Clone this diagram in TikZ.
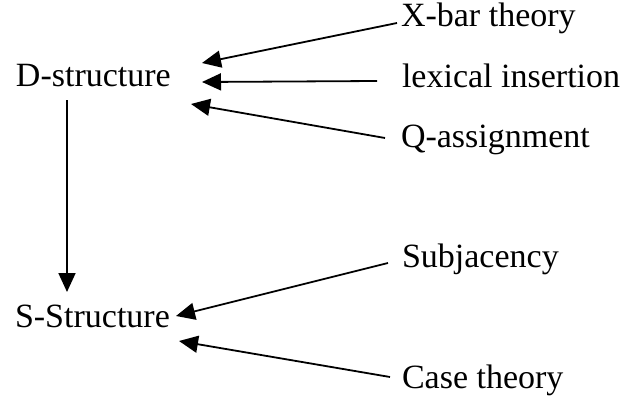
\documentclass[tikz,border=0pt]{standalone}
\usepackage{fontspec}
\setmainfont{Liberation Serif}
\usetikzlibrary{arrows.meta,calc}

\begin{document}
\begin{tikzpicture}[
    x=0.5pt, y=-0.5pt,
    label/.style={inner sep=0pt, outer sep=0pt, anchor=base west,
                  font=\fontsize{17}{20}\selectfont},
    feed/.style={line width=0.9pt,
                 -{Triangle[length=9.5pt,width=8.5pt]}}
  ]
  \useasboundingbox (0,0) rectangle (625,401);

  % levels of representation
  \node[label] (dstr) at (16,87)  {D-structure};
  \node[label] (sstr) at (15,327) {S-Structure};

  % modules feeding D-structure
  \node[label] (xbar)  at (401,27)  {X-bar theory};
  \node[label] (lex)   at (402,88)  {lexical insertion};
  \node[label] (theta) at (401,147) {Q-assignment};

  % modules constraining S-Structure
  \node[label] (subj) at (402,267) {Subjacency};
  \node[label] (case) at (402,388) {Case theory};

  % derivation
  \draw[feed] ($(dstr.base west)+(51,13)$) -- ($(sstr.base west)+(52,-35)$);

  % arrows into D-structure
  \draw[feed] ($(xbar.base west)+(-4,-4)$)   -- ($(dstr.base west)+(186,-24)$);
  \draw[feed] ($(lex.base west)+(-25,-7)$)   -- ($(dstr.base west)+(186,-5)$);
  \draw[feed] ($(theta.base west)+(-16,-9)$) -- ($(dstr.base west)+(175,17)$);

  % arrows into S-Structure
  \draw[feed] ($(subj.base west)+(-14,-4)$)  -- ($(sstr.base west)+(161,-11)$);
  \draw[feed] ($(case.base west)+(-12,-11)$) -- ($(sstr.base west)+(164,14)$);
\end{tikzpicture}
\end{document}
